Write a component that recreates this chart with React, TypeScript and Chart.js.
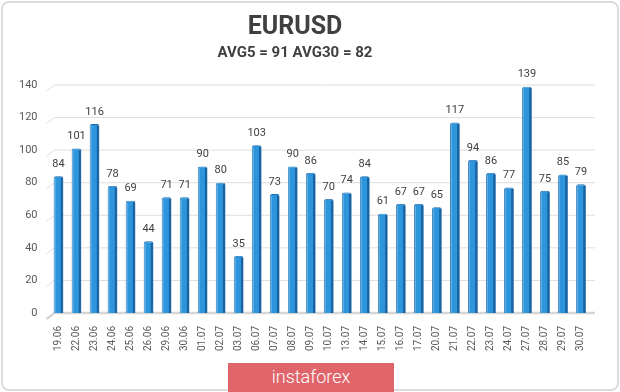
import React, { useEffect, useRef } from "react";
import { Chart, registerables } from "chart.js";

Chart.register(...registerables);

const categories = [
  "19.06", "22.06", "23.06", "24.06", "25.06", "26.06", "29.06", "30.06",
  "01.07", "02.07", "03.07", "06.07", "07.07", "08.07", "09.07", "10.07",
  "13.07", "14.07", "15.07", "16.07", "17.07", "20.07", "21.07", "22.07",
  "23.07", "24.07", "27.07", "28.07", "29.07", "30.07",
];
const values = [
  84, 101, 116, 78, 69, 44, 71, 71, 90, 80, 35, 103, 73, 90, 86, 70,
  74, 84, 61, 67, 67, 65, 117, 94, 86, 77, 139, 75, 85, 79,
];
const titleText = "EURUSD";
const subtitleText = "AVG5 = 91 AVG30 = 82";
const yMin = 0;
const yMax = 140;
const yStep = 20;

const FONT = "Roboto, 'Open Sans', sans-serif";

const gridPlugin = {
  id: "grid3d",
  beforeDatasetsDraw(chart: any) {
    const { ctx, chartArea, scales } = chart;
    const ys = scales.y;
    ctx.save();
    ys.ticks.forEach((t: any) => {
      const py = ys.getPixelForValue(t.value);
      ctx.beginPath();
      ctx.strokeStyle = t.value === 0 ? "#d6d6d6" : "#dedede";
      ctx.lineWidth = t.value === 0 ? 2.5 : 1;
      ctx.moveTo(chartArea.left - 3, py + 6);
      ctx.lineTo(chartArea.left + 5, py);
      ctx.lineTo(chartArea.right + 5, py);
      ctx.stroke();
    });
    ctx.restore();
  },
};

const barDecorPlugin = {
  id: "barDecor",
  afterDatasetsDraw(chart: any) {
    const { ctx } = chart;
    const meta = chart.getDatasetMeta(0);
    const data = chart.data.datasets[0].data;
    ctx.save();
    meta.data.forEach((bar: any, i: number) => {
      const { x, y, base, width } = bar.getProps(["x", "y", "base", "width"], true);
      ctx.fillStyle = "#1a63a3";
      ctx.fillRect(x + width / 2 - 2.6, y + 1.5, 2.1, base - y - 1.5);
      ctx.fillStyle = "rgba(255,255,255,0.25)";
      ctx.fillRect(x - width / 2 + 1, y + 2, 1, base - y - 2);
      ctx.fillStyle = "#404040";
      ctx.font = `11px ${FONT}`;
      ctx.textAlign = "center";
      ctx.textBaseline = "middle";
      ctx.fillText(String(data[i]), x, y - 12);
    });
    ctx.restore();
  },
};

export default function App() {
  const ref = useRef<HTMLCanvasElement | null>(null);

  useEffect(() => {
    if (!ref.current) return;
    const chart = new Chart(ref.current, {
      type: "bar",
      data: {
        labels: categories,
        datasets: [
          {
            data: values,
            backgroundColor: "#2d95dc",
            borderColor: "#1c68a8",
            borderWidth: 0.8,
            borderRadius: { topLeft: 2, topRight: 2, bottomLeft: 0, bottomRight: 0 },
            borderSkipped: "bottom",
            barPercentage: 0.54,
            categoryPercentage: 1,
          },
        ],
      },
      options: {
        responsive: false,
        animation: false,
        devicePixelRatio: 1,
        layout: { padding: { left: 0, right: 30, top: 0, bottom: 0 } },
        plugins: {
          legend: { display: false },
          tooltip: { enabled: false },
          title: {
            display: true,
            text: titleText,
            color: "#404040",
            font: { family: FONT, size: 25, weight: "bold" },
            padding: { top: 12.5, bottom: 1.5 },
          },
          subtitle: {
            display: true,
            text: subtitleText,
            color: "#404040",
            font: { family: FONT, size: 15, weight: "bold" },
            padding: { top: 0, bottom: 23 },
          },
        },
        scales: {
          x: {
            grid: { display: false, drawTicks: false },
            border: { display: false },
            ticks: {
              autoSkip: false,
              maxRotation: 90,
              minRotation: 90,
              padding: 13,
              color: "#595959",
              font: { family: FONT, size: 10 },
            },
            afterFit(scale: any) {
              scale.height = 79;
            },
          },
          y: {
            min: yMin,
            max: yMax,
            grid: { display: false, drawTicks: false },
            border: { display: false },
            ticks: {
              stepSize: yStep,
              padding: 12,
              color: "#595959",
              font: { family: FONT, size: 11 },
            },
            afterFit(scale: any) {
              scale.width = 49.5;
            },
          },
        },
      },
      plugins: [gridPlugin, barDecorPlugin],
    } as any);
    return () => chart.destroy();
  }, []);

  return (
    <div
      style={{
        position: "fixed",
        left: 0,
        top: 0,
        width: 620,
        height: 392,
        background: "#fff",
        overflow: "hidden",
      }}
    >
      <canvas ref={ref} width={620} height={392} style={{ position: "absolute", left: 0, top: 0 }} />
      <div
        style={{
          position: "absolute",
          left: 1,
          top: 1,
          width: 614,
          height: 386,
          border: "2px solid #dcdcdc",
          borderRadius: 8,
          pointerEvents: "none",
        }}
      />
      <div
        style={{
          position: "absolute",
          left: 228,
          top: 363,
          width: 166,
          height: 29,
          background: "#e0656a",
          color: "#fff",
          fontFamily: FONT,
          fontWeight: 300,
          fontSize: 18,
          lineHeight: "28px",
          textAlign: "center",
        }}
      >
        instaforex
      </div>
    </div>
  );
}
